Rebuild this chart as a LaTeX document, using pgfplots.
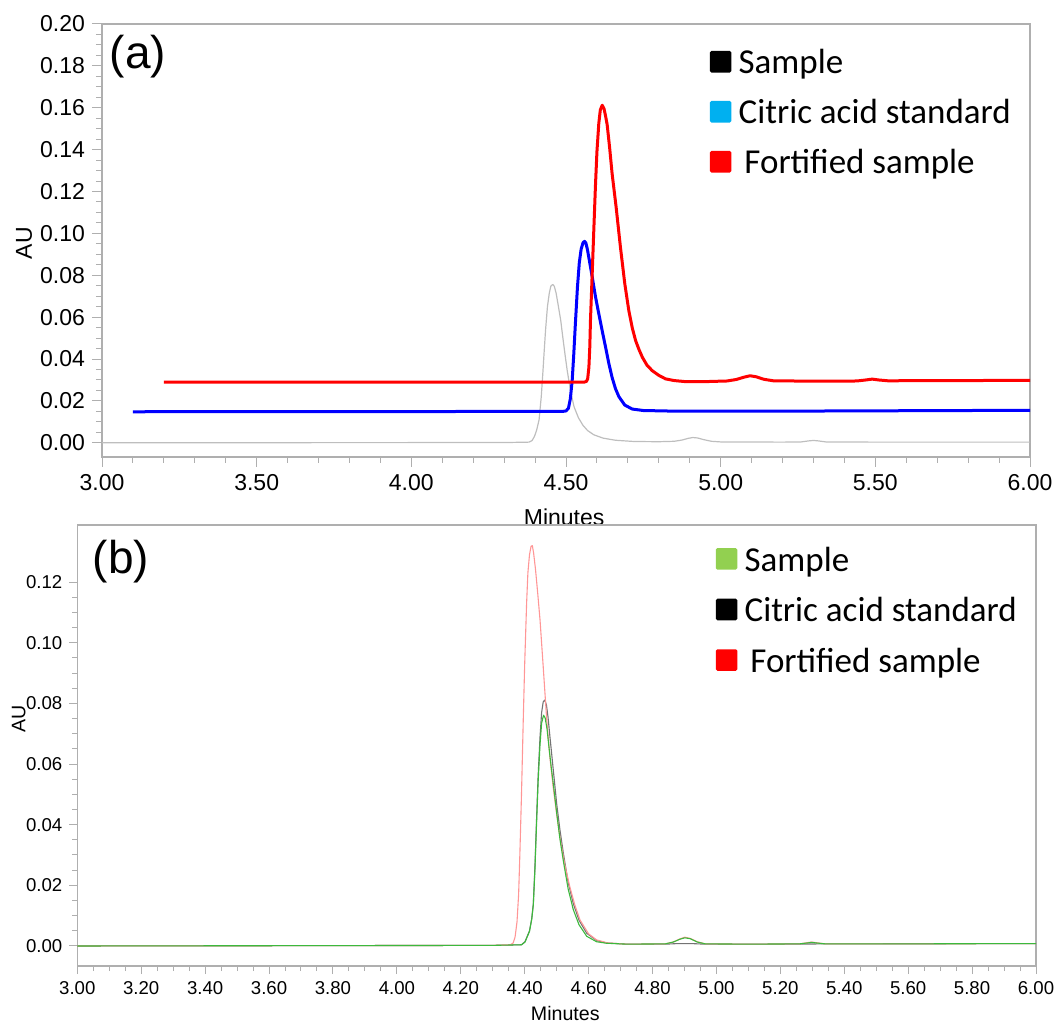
\documentclass[border=0pt]{standalone}
\usepackage{fontspec}
\setmainfont{Liberation Sans}
\newfontfamily\carlito{Carlito}
\usepackage{pgfplots}
\pgfplotsset{compat=1.18}
\definecolor{axgray}{RGB}{175,175,175}
\definecolor{smpgray}{RGB}{190,190,190}
\definecolor{legcyan}{RGB}{0,176,240}
\definecolor{leggreen}{RGB}{146,208,80}
\definecolor{pinkred}{RGB}{255,150,150}
\definecolor{stdgray}{RGB}{115,115,115}
\definecolor{grn}{RGB}{60,185,60}
\pgfplotsset{
  chrom/.style={
    scale only axis,
    axis line style={axgray, line width=0.6pt},
    tick style={axgray, line width=0.5pt},
    tick align=outside,
    xtick pos=bottom, ytick pos=left,
    scaled ticks=false,
    /pgf/number format/fixed,
    /pgf/number format/fixed zerofill,
    /pgf/number format/precision=2,
    /pgf/number format/assume math mode=true,
    legend cell align=left,
    legend image code/.code={\fill[##1, rounded corners=0.8pt] (0pt,-3.3pt) rectangle (10.8pt,7.5pt);
      \path (14.4pt,0pt);},
  }
}
\begin{document}
\begin{tikzpicture}
\useasboundingbox (0,0) rectangle (528pt,512pt);
% ---------------- panel (a)
\begin{axis}[chrom,
  at={(51pt,283.5pt)}, anchor=south west,
  width=464pt, height=216.5pt,
  xmin=3, xmax=6, ymin=-0.0068, ymax=0.2,
  xtick={3,3.5,4,4.5,5,5.5,6}, minor x tick num=4,
  ytick={0,0.02,0.04,0.06,0.08,0.1,0.12,0.14,0.16,0.18,0.2}, minor y tick num=3,
  major tick length=5pt, minor tick length=3pt,
  tick label style={font=\fontsize{11.5}{13}\selectfont},
  xlabel={Minutes}, ylabel={AU},
  label style={font=\fontsize{11.5}{13}\selectfont},
  xlabel style={at={(axis description cs:0.498,-0.139)}, anchor=center},
  ylabel style={at={(axis description cs:-0.084,0.494)}, anchor=center},
  legend style={at={(axis description cs:0.655,0.940)}, anchor=north west,
    draw=none, fill=none, inner sep=0pt, outer sep=0pt,
    font=\carlito\fontsize{17.5}{21}\selectfont, row sep=9pt,
    nodes={inner sep=0pt, text height=12pt, text depth=4pt}},
]
\addplot[smpgray, line width=0.6pt, line join=round, forget plot] coordinates {
(3.00,0.0000) (4.30,0.0001) (4.38,0.0003) (4.39,0.0010) (4.398,0.0030) (4.405,0.0060)
(4.413,0.0110) (4.420,0.0220) (4.425,0.0330) (4.429,0.0426) (4.434,0.0540) (4.440,0.0650)
(4.446,0.0715) (4.451,0.0748) (4.457,0.0756) (4.462,0.0748) (4.468,0.0715) (4.475,0.0655)
(4.483,0.0584) (4.490,0.0500) (4.497,0.0420) (4.504,0.0344) (4.515,0.0245) (4.526,0.0172)
(4.540,0.0120) (4.555,0.0083) (4.570,0.0058) (4.590,0.0038) (4.620,0.0022) (4.660,0.0012)
(4.720,0.0006) (4.800,0.0005) (4.850,0.0007) (4.875,0.0013) (4.895,0.0021) (4.910,0.0025)
(4.925,0.0023) (4.945,0.0015) (4.970,0.0007) (5.000,0.0004) (5.200,0.0003) (5.260,0.0004)
(5.285,0.0009) (5.300,0.0011) (5.315,0.0009) (5.340,0.0004) (5.500,0.0003) (6.000,0.0003)};
\addplot[blue, line width=1.5pt, line join=round, forget plot] coordinates {
(3.10,0.0148) (3.50,0.0149) (4.00,0.0149) (4.49,0.0150) (4.500,0.0152) (4.508,0.0165)
(4.514,0.0210) (4.520,0.0297) (4.525,0.0420) (4.530,0.0560) (4.537,0.0743) (4.543,0.0860)
(4.549,0.0925) (4.555,0.0955) (4.560,0.0962) (4.564,0.0955) (4.569,0.0925) (4.575,0.0875)
(4.585,0.0790) (4.595,0.0700) (4.606,0.0616) (4.617,0.0535) (4.628,0.0456) (4.638,0.0382)
(4.649,0.0312) (4.660,0.0258) (4.671,0.0220) (4.690,0.0180) (4.714,0.0161) (4.750,0.0154)
(4.850,0.0151) (5.200,0.0151) (5.600,0.0153) (6.000,0.0155)};
\addplot[red, line width=1.5pt, line join=round, forget plot] coordinates {
(3.20,0.0289) (3.60,0.0290) (4.00,0.0290) (4.40,0.0290) (4.560,0.0290) (4.566,0.0293)
(4.570,0.0305) (4.574,0.0360) (4.577,0.0460) (4.579,0.0580) (4.582,0.0700) (4.585,0.0820)
(4.588,0.0940) (4.591,0.1060) (4.595,0.1220) (4.600,0.1390) (4.606,0.1525) (4.611,0.1590)
(4.617,0.1612) (4.623,0.1595) (4.628,0.1560) (4.633,0.1520) (4.641,0.1410) (4.649,0.1286)
(4.662,0.1126) (4.676,0.0934) (4.690,0.0760) (4.703,0.0632) (4.714,0.0550) (4.725,0.0488)
(4.736,0.0445) (4.747,0.0408) (4.762,0.0370) (4.779,0.0344) (4.800,0.0322) (4.822,0.0305)
(4.850,0.0297) (4.886,0.0292) (4.950,0.0292) (5.020,0.0295) (5.050,0.0302) (5.075,0.0313)
(5.095,0.0320) (5.115,0.0315) (5.140,0.0303) (5.170,0.0296) (5.300,0.0294) (5.440,0.0295)
(5.470,0.0300) (5.490,0.0304) (5.510,0.0300) (5.540,0.0296) (6.000,0.0298)};
\addlegendimage{fill=black, draw=none}
\addlegendentry{Sample}
\addlegendimage{fill=legcyan, draw=none}
\addlegendentry{Citric acid standard}
\addlegendimage{fill=red, draw=none}
\addlegendentry{\,Fortified sample}
\node[font=\fontsize{23}{26}\selectfont] at (axis description cs:0.0388,0.924) {(a)};
\end{axis}
% ---------------- panel (b)
\begin{axis}[chrom,
  at={(38.65pt,29pt)}, anchor=south west,
  width=479.35pt, height=220.5pt,
  xmin=3, xmax=6, ymin=-0.0066, ymax=0.1388,
  xtick={3,3.2,3.4,3.6,3.8,4,4.2,4.4,4.6,4.8,5,5.2,5.4,5.6,5.8,6}, minor x tick num=3,
  ytick={0,0.02,0.04,0.06,0.08,0.1,0.12}, minor y tick num=3,
  major tick length=4pt, minor tick length=2.5pt,
  tick label style={font=\fontsize{9.3}{11}\selectfont},
  xlabel={Minutes}, ylabel={AU},
  label style={font=\fontsize{9.8}{11}\selectfont},
  xlabel style={at={(axis description cs:0.509,-0.107)}, anchor=center},
  ylabel style={at={(axis description cs:-0.061,0.56)}, anchor=center},
  legend style={at={(axis description cs:0.666,0.950)}, anchor=north west,
    draw=none, fill=none, inner sep=0pt, outer sep=0pt,
    font=\carlito\fontsize{17.5}{21}\selectfont, row sep=9.3pt,
    nodes={inner sep=0pt, text height=12pt, text depth=4pt}},
]
\addplot[stdgray, line width=0.55pt, line join=round, forget plot] coordinates {
(3.00,0.0000) (4.30,0.0002) (4.390,0.0004) (4.401,0.0014) (4.415,0.0050) (4.422,0.0090)
(4.427,0.0140) (4.432,0.0260) (4.437,0.0415) (4.442,0.0560) (4.448,0.0690) (4.453,0.0770)
(4.458,0.0805) (4.463,0.0811) (4.468,0.0795) (4.473,0.0755) (4.479,0.0690) (4.490,0.0575)
(4.500,0.0470) (4.510,0.0385) (4.521,0.0306) (4.536,0.0210) (4.552,0.0140) (4.570,0.0085)
(4.594,0.0042) (4.625,0.0018) (4.656,0.0010) (4.720,0.0006) (4.840,0.0006) (4.880,0.0008)
(4.920,0.0008) (4.965,0.0006) (5.100,0.0006) (5.400,0.0007) (6.000,0.0008)};
\addplot[pinkred, line width=0.55pt, line join=round, forget plot] coordinates {
(3.00,0.0000) (4.30,0.0002) (4.355,0.0004) (4.364,0.0010) (4.370,0.0030) (4.376,0.0080)
(4.381,0.0170) (4.385,0.0306) (4.390,0.0500) (4.3955,0.0745) (4.400,0.0930) (4.406,0.1130)
(4.410,0.1230) (4.415,0.1290) (4.420,0.1318) (4.424,0.1320) (4.428,0.1295) (4.434,0.1240)
(4.441,0.1160) (4.448,0.1075) (4.458,0.0920) (4.469,0.0745) (4.479,0.0620) (4.489,0.0525)
(4.500,0.0435) (4.510,0.0360) (4.525,0.0270) (4.541,0.0196) (4.557,0.0135) (4.573,0.0086)
(4.600,0.0040) (4.625,0.0020) (4.660,0.0010) (4.720,0.0006) (4.840,0.0007) (4.865,0.0013)
(4.885,0.0023) (4.901,0.0029) (4.918,0.0025) (4.940,0.0014) (4.965,0.0007) (5.100,0.0006)
(5.260,0.0007) (5.285,0.0011) (5.298,0.0013) (5.312,0.0011) (5.340,0.0007) (5.600,0.0007)
(6.000,0.0008)};
\addplot[grn, line width=0.55pt, line join=round, forget plot] coordinates {
(3.00,0.0000) (4.30,0.0002) (4.390,0.0004) (4.401,0.0013) (4.415,0.0048) (4.422,0.0088)
(4.427,0.0135) (4.432,0.0250) (4.437,0.0400) (4.442,0.0540) (4.448,0.0665) (4.453,0.0735)
(4.459,0.0761) (4.464,0.0752) (4.470,0.0715) (4.476,0.0655) (4.483,0.0590) (4.490,0.0530)
(4.500,0.0440) (4.510,0.0355) (4.521,0.0280) (4.536,0.0188) (4.552,0.0120) (4.570,0.0070)
(4.594,0.0032) (4.625,0.0014) (4.656,0.0009) (4.720,0.0006) (4.840,0.0007) (4.865,0.0013)
(4.885,0.0022) (4.901,0.0027) (4.918,0.0024) (4.940,0.0013) (4.965,0.0007) (5.100,0.0006)
(5.260,0.0007) (5.285,0.0010) (5.298,0.0012) (5.312,0.0010) (5.340,0.0007) (5.600,0.0007)
(6.000,0.0008)};
\addlegendimage{fill=leggreen, draw=none}
\addlegendentry{Sample}
\addlegendimage{fill=black, draw=none}
\addlegendentry{Citric acid standard}
\addlegendimage{fill=red, draw=none}
\addlegendentry{\,Fortified sample}
\node[font=\fontsize{23}{26}\selectfont] at (axis description cs:0.0456,0.918) {(b)};
\end{axis}
\end{tikzpicture}
\end{document}
